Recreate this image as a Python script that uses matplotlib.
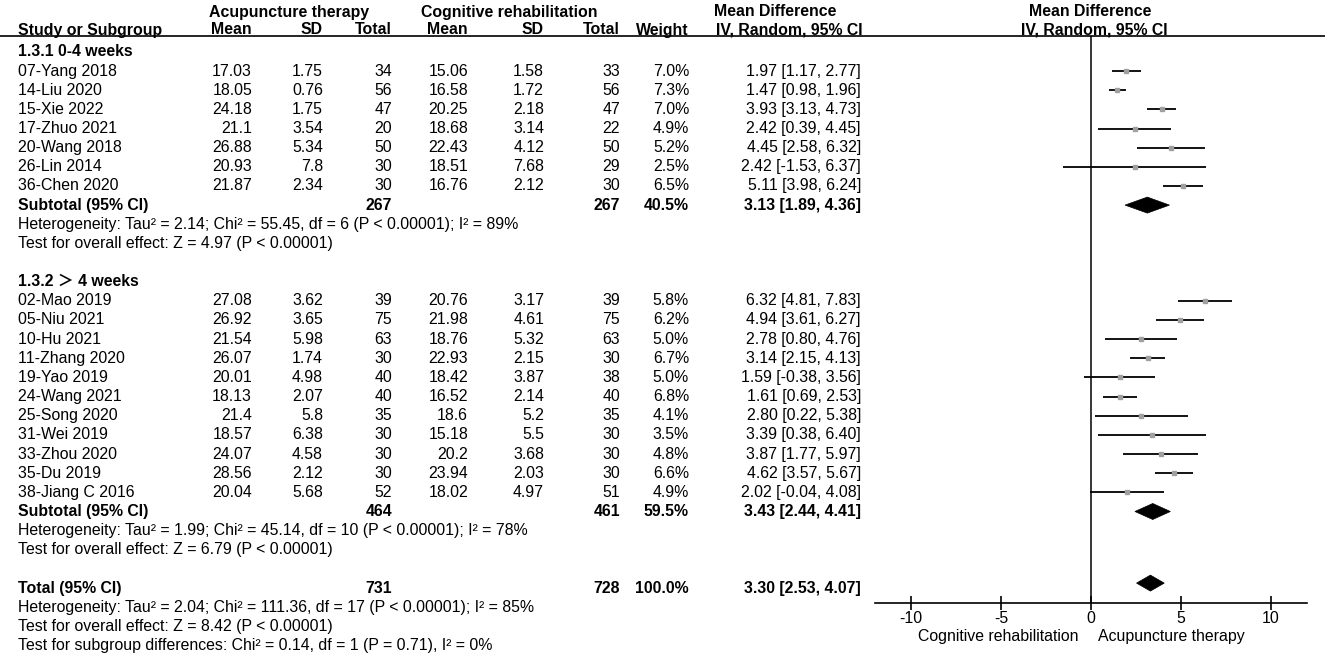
import matplotlib
matplotlib.use('Agg')
import matplotlib.pyplot as plt
from matplotlib.patches import Polygon

plt.rcParams['font.family'] = ['Liberation Sans', 'Noto Sans CJK SC', 'DejaVu Sans']
plt.rcParams['axes.unicode_minus'] = False

# ---- data ----
studies1 = ['07-Yang 2018', '14-Liu 2020', '15-Xie 2022', '17-Zhuo 2021', '20-Wang 2018', '26-Lin 2014', '36-Chen 2020']
acu_mean1 = [17.03, 18.05, 24.18, 21.1, 26.88, 20.93, 21.87]
acu_sd1 = [1.75, 0.76, 1.75, 3.54, 5.34, 7.8, 2.34]
acu_n1 = [34, 56, 47, 20, 50, 30, 30]
cog_mean1 = [15.06, 16.58, 20.25, 18.68, 22.43, 18.51, 16.76]
cog_sd1 = [1.58, 1.72, 2.18, 3.14, 4.12, 7.68, 2.12]
cog_n1 = [33, 56, 47, 22, 50, 29, 30]
weight1 = [7.0, 7.3, 7.0, 4.9, 5.2, 2.5, 6.5]
md1 = [1.97, 1.47, 3.93, 2.42, 4.45, 2.42, 5.11]
lo1 = [1.17, 0.98, 3.13, 0.39, 2.58, -1.53, 3.98]
hi1 = [2.77, 1.96, 4.73, 4.45, 6.32, 6.37, 6.24]

studies2 = ['02-Mao 2019', '05-Niu 2021', '10-Hu 2021', '11-Zhang 2020', '19-Yao 2019', '24-Wang 2021',
            '25-Song 2020', '31-Wei 2019', '33-Zhou 2020', '35-Du 2019', '38-Jiang C 2016']
acu_mean2 = [27.08, 26.92, 21.54, 26.07, 20.01, 18.13, 21.4, 18.57, 24.07, 28.56, 20.04]
acu_sd2 = [3.62, 3.65, 5.98, 1.74, 4.98, 2.07, 5.8, 6.38, 4.58, 2.12, 5.68]
acu_n2 = [39, 75, 63, 30, 40, 40, 35, 30, 30, 30, 52]
cog_mean2 = [20.76, 21.98, 18.76, 22.93, 18.42, 16.52, 18.6, 15.18, 20.2, 23.94, 18.02]
cog_sd2 = [3.17, 4.61, 5.32, 2.15, 3.87, 2.14, 5.2, 5.5, 3.68, 2.03, 4.97]
cog_n2 = [39, 75, 63, 30, 38, 40, 35, 30, 30, 30, 51]
weight2 = [5.8, 6.2, 5.0, 6.7, 5.0, 6.8, 4.1, 3.5, 4.8, 6.6, 4.9]
md2 = [6.32, 4.94, 2.78, 3.14, 1.59, 1.61, 2.80, 3.39, 3.87, 4.62, 2.02]
lo2 = [4.81, 3.61, 0.80, 2.15, -0.38, 0.69, 0.22, 0.38, 1.77, 3.57, -0.04]
hi2 = [7.83, 6.27, 4.76, 4.13, 3.56, 2.53, 5.38, 6.40, 5.97, 5.67, 4.08]

groups = ['1.3.1 0-4 weeks', '1.3.2 \uff1e 4 weeks']
sub_n_acu = [267, 464]
sub_n_cog = [267, 461]
sub_weight = [40.5, 59.5]
sub_md = [3.13, 3.43]
sub_lo = [1.89, 2.44]
sub_hi = [4.36, 4.41]
sub_het = ['Heterogeneity: Tau\u00b2 = 2.14; Chi\u00b2 = 55.45, df = 6 (P < 0.00001); I\u00b2 = 89%',
           'Heterogeneity: Tau\u00b2 = 1.99; Chi\u00b2 = 45.14, df = 10 (P < 0.00001); I\u00b2 = 78%']
sub_z = ['Test for overall effect: Z = 4.97 (P < 0.00001)',
         'Test for overall effect: Z = 6.79 (P < 0.00001)']

tot_n_acu, tot_n_cog, tot_weight = 731, 728, 100.0
tot_md, tot_lo, tot_hi = 3.30, 2.53, 4.07
tot_notes = ['Heterogeneity: Tau\u00b2 = 2.04; Chi\u00b2 = 111.36, df = 17 (P < 0.00001); I\u00b2 = 85%',
             'Test for overall effect: Z = 8.42 (P < 0.00001)',
             'Test for subgroup differences: Chi\u00b2 = 0.14, df = 1 (P = 0.71), I\u00b2 = 0%']

# ---- layout (pixels) ----
W, H = 1325, 660
fs = 11.4
y0, step = 51.9, 19.15
col_acu = [252, 323, 392]
col_cog = [468, 544, 620]
col_w = 689
col_ci = 861
ax_left, ax_right, ax_top, ax_bot = 875, 1307, 36, 603


def rowy(i):
    return y0 + step * i


fig = plt.figure(figsize=(W / 100, H / 100), dpi=100)
ax = fig.add_axes([0, 0, 1, 1])
ax.set_xlim(0, W)
ax.set_ylim(H, 0)
ax.axis('off')

fa = fig.add_axes([ax_left / W, 1 - ax_bot / H, (ax_right - ax_left) / W, (ax_bot - ax_top) / H])
fa.set_xlim(-12, 12)
fa.set_ylim(ax_bot, ax_top)
for s in ['top', 'left', 'right']:
    fa.spines[s].set_visible(False)
fa.spines['bottom'].set_linewidth(1.2)
fa.set_yticks([])
fa.set_xticks([-10, -5, 0, 5, 10])
fa.tick_params(axis='x', direction='inout', length=10, width=1.2, labelsize=fs, pad=1)
fa.axvline(0, color='black', lw=1.1)
fa.patch.set_visible(False)


def t(x, y, s, ha='left', bold=False):
    ax.text(x, y, s, ha=ha, va='center', fontsize=fs, fontweight='bold' if bold else 'normal')


# header
t(289, 12, 'Acupuncture therapy', 'center', True)
t(509, 12, 'Cognitive rehabilitation', 'center', True)
t(775, 12, 'Mean Difference', 'center', True)
t(1090, 12, 'Mean Difference', 'center', True)
t(18, 30, 'Study or Subgroup', bold=True)
for cols in (col_acu, col_cog):
    for x, s in zip(cols, ['Mean', 'SD', 'Total']):
        t(x, 30, s, 'right', True)
t(col_w, 30, 'Weight', 'right', True)
t(col_ci + 2, 30, 'IV, Random, 95% CI', 'right', True)
t(1094, 30, 'IV, Random, 95% CI', 'center', True)
ax.plot([0, W], [36, 36], color='black', lw=1.2)

data = [
    (studies1, acu_mean1, acu_sd1, acu_n1, cog_mean1, cog_sd1, cog_n1, weight1, md1, lo1, hi1),
    (studies2, acu_mean2, acu_sd2, acu_n2, cog_mean2, cog_sd2, cog_n2, weight2, md2, lo2, hi2),
]


def diamond(y, md, lo, hi):
    fa.add_patch(Polygon([[lo, y], [md, y - 8], [hi, y], [md, y + 8]], closed=True,
                         facecolor='black', edgecolor='black', lw=0.5))


r = 0
for g, d in enumerate(data):
    name, am, asd, an, cm, csd, cn, w, md, lo, hi = d
    t(18, rowy(r), groups[g], bold=True)
    r += 1
    for k in range(len(name)):
        y = rowy(r)
        t(18, y, name[k])
        t(col_acu[0], y, f'{am[k]:g}', 'right')
        t(col_acu[1], y, f'{asd[k]:g}', 'right')
        t(col_acu[2], y, f'{an[k]}', 'right')
        t(col_cog[0], y, f'{cm[k]:g}', 'right')
        t(col_cog[1], y, f'{csd[k]:g}', 'right')
        t(col_cog[2], y, f'{cn[k]}', 'right')
        t(col_w, y, f'{w[k]:.1f}%', 'right')
        t(col_ci, y, f'{md[k]:.2f} [{lo[k]:.2f}, {hi[k]:.2f}]', 'right')
        fa.plot([lo[k], hi[k]], [y, y], color='black', lw=1.3, solid_capstyle='butt')
        fa.plot(md[k], y, marker='s', ms=3.5, color='#a0a0a0', mec='#a0a0a0')
        r += 1
    y = rowy(r)
    t(18, y, 'Subtotal (95% CI)', bold=True)
    t(col_acu[2], y, f'{sub_n_acu[g]}', 'right', True)
    t(col_cog[2], y, f'{sub_n_cog[g]}', 'right', True)
    t(col_w, y, f'{sub_weight[g]:.1f}%', 'right', True)
    t(col_ci, y, f'{sub_md[g]:.2f} [{sub_lo[g]:.2f}, {sub_hi[g]:.2f}]', 'right', True)
    diamond(y, sub_md[g], sub_lo[g], sub_hi[g])
    r += 1
    t(18, rowy(r), sub_het[g])
    r += 1
    t(18, rowy(r), sub_z[g])
    r += 2

y = rowy(r)
t(18, y, 'Total (95% CI)', bold=True)
t(col_acu[2], y, f'{tot_n_acu}', 'right', True)
t(col_cog[2], y, f'{tot_n_cog}', 'right', True)
t(col_w, y, f'{tot_weight:.1f}%', 'right', True)
t(col_ci, y, f'{tot_md:.2f} [{tot_lo:.2f}, {tot_hi:.2f}]', 'right', True)
diamond(y - 5, tot_md, tot_lo, tot_hi)
r += 1
for note in tot_notes:
    t(18, rowy(r), note)
    r += 1

t(1078, 636, 'Cognitive rehabilitation', 'right')
t(1098, 636, 'Acupuncture therapy', 'left')

fig.savefig('out.png', dpi=100)
